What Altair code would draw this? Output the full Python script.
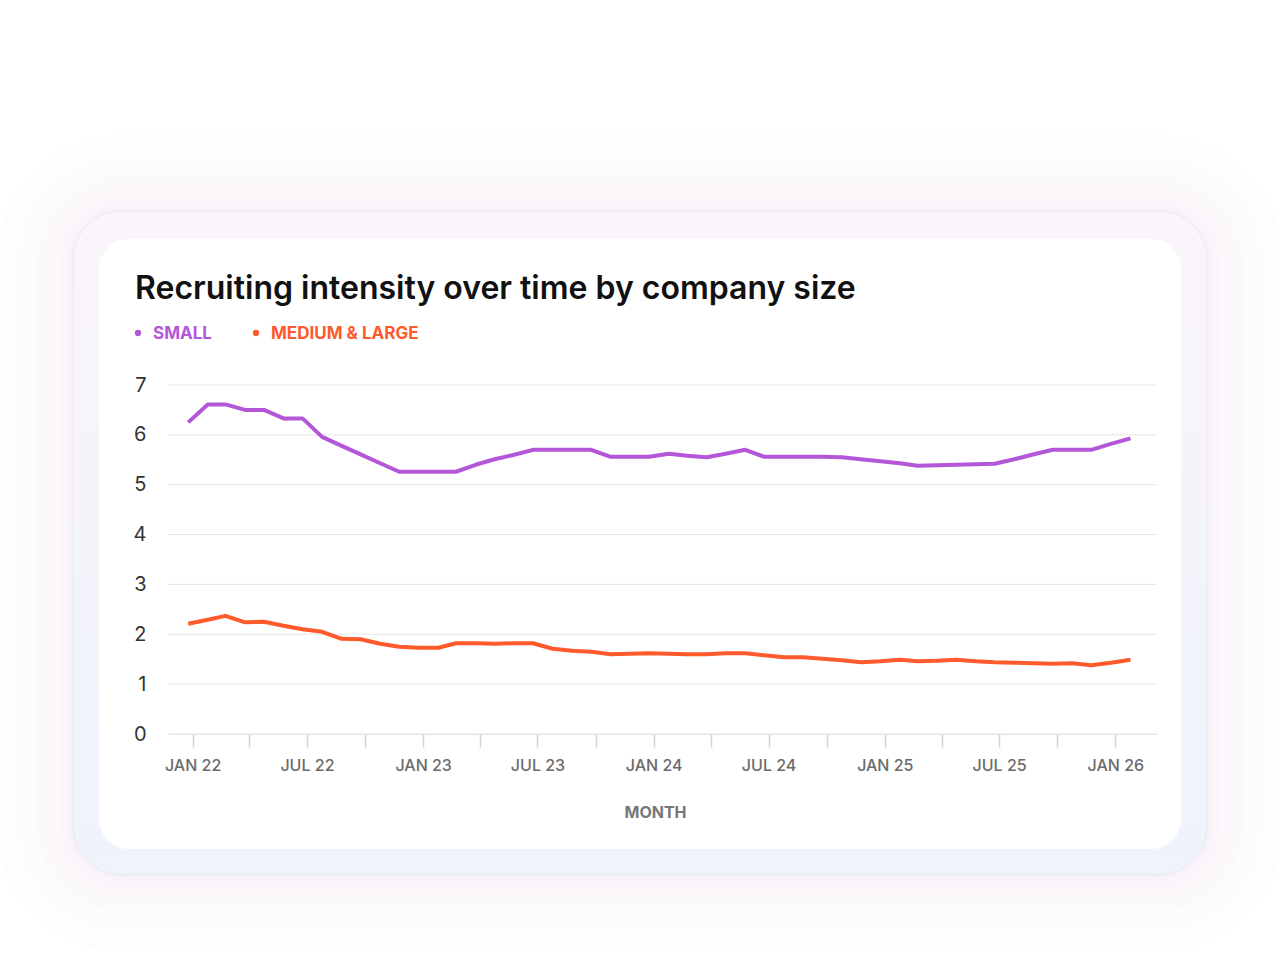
import altair as alt
import pandas as pd

# ---- data -------------------------------------------------------------
SERIES = ["SMALL", "MEDIUM & LARGE"]
COLORS = ["#B357D8", "#FF5A2B"]

# monthly observations, Jan 2022 .. Feb 2026
MONTHS = pd.date_range("2022-01-01", periods=50, freq="MS").strftime("%Y-%m-%d").tolist()

SMALL = [6.25, 6.61, 6.61, 6.50, 6.50, 6.33, 6.33, 5.96, 5.78, 5.61,
         5.43, 5.26, 5.26, 5.26, 5.26, 5.40, 5.51, 5.60, 5.70, 5.70,
         5.70, 5.70, 5.56, 5.56, 5.56, 5.62, 5.58, 5.55, 5.62, 5.70,
         5.56, 5.56, 5.56, 5.56, 5.55, 5.51, 5.47, 5.43, 5.38, 5.39,
         5.40, 5.41, 5.42, 5.51, 5.61, 5.70, 5.70, 5.70, 5.82, 5.93]

MEDIUM_LARGE = [2.21, 2.29, 2.37, 2.24, 2.25, 2.17, 2.10, 2.05, 1.91, 1.90,
                1.81, 1.75, 1.73, 1.73, 1.82, 1.82, 1.81, 1.82, 1.82, 1.71,
                1.67, 1.65, 1.60, 1.61, 1.62, 1.61, 1.60, 1.60, 1.62, 1.62,
                1.58, 1.54, 1.54, 1.51, 1.48, 1.44, 1.46, 1.49, 1.46, 1.47,
                1.49, 1.46, 1.44, 1.43, 1.42, 1.41, 1.42, 1.38, 1.43, 1.49]

Y_TICKS = [0, 1, 2, 3, 4, 5, 6, 7]
TITLE = "Recruiting intensity over time by company size"

# ---- layout -----------------------------------------------------------
W, H = 989, 349              # plot area
PAD = {"left": 168, "top": 385, "right": 1280 - 168 - W, "bottom": 960 - 385 - H}

df = pd.DataFrame({
    "month": MONTHS * 2,
    "value": SMALL + MEDIUM_LARGE,
    "series": [SERIES[0]] * len(MONTHS) + [SERIES[1]] * len(MONTHS),
})
grid_df = pd.DataFrame({"v": Y_TICKS})
one = alt.InlineData(values=[{"k": 1}])

FONT = "Inter"

x_scale = alt.Scale(
    type="utc",
    domain=[alt.DateTime(year=2021, month=11, date=30, utc=True),
            alt.DateTime(year=2026, month=3, date=15, utc=True)],
    nice=False,
)
y_scale = alt.Scale(domain=[0, 7], nice=False, zero=True)

# quarterly ticks, placed a week into each quarter's first month
quarter_ticks = [alt.DateTime(year=y, month=m, date=8, utc=True)
                 for y in range(2022, 2027) for m in (1, 4, 7, 10)
                 if (y, m) <= (2026, 1)]

x_axis = alt.Axis(
    values=quarter_ticks,
    labelExpr="utcmonth(datum.value) % 6 == 0 ? upper(utcFormat(datum.value, '%b %y')) : ''",
    labelFont=FONT, labelFontSize=16, labelFontWeight=500, labelColor="#6b6b6b",
    labelPadding=10, labelOverlap=False, labelBound=False, labelFlush=False,
    ticks=True, tickSize=13, tickColor="#dccfd5", tickWidth=1.5,
    domain=True, domainColor="#e8e2e5", domainWidth=1,
    grid=False,
    title="MONTH", titleFont=FONT, titleFontSize=16, titleFontWeight=700,
    titleColor="#777777", titlePadding=31, titleX=487, titleAlign="center",
    zindex=1,
)
y_axis = alt.Axis(
    values=Y_TICKS, labelFont=FONT, labelFontSize=20, labelFontWeight=400,
    labelColor="#333333", labelPadding=22, ticks=False, domain=False,
    grid=False, title=None, zindex=1,
)

# ---- background card --------------------------------------------------
def card(x0, y0, x1, y1, radius, **kw):
    return alt.Chart(one).mark_rect(cornerRadius=radius, **kw).encode(
        x=alt.value(x0), x2=alt.value(x1), y=alt.value(y0), y2=alt.value(y1)
    )

OX0, OY0, OX1, OY1 = 73 - 168, 211 - 385, 1207 - 168, 875 - 385
glow = [card(OX0 - e, OY0 - e, OX1 + e, OY1 + e, 48 + e,
             fill="#c48ad8", opacity=0.018)
        for e in (5, 12, 22, 36, 54, 76)]

outer = card(OX0, OY0, OX1, OY1, 48,
             fill=alt.Gradient(gradient="linear",
                               stops=[alt.GradientStop(color="#faf5fa", offset=0),
                                      alt.GradientStop(color="#eef3fc", offset=1)],
                               x1=0, x2=0, y1=0, y2=1),
             stroke="#ebe6ee", strokeWidth=1)
inner = card(99 - 168, 239 - 385, 1181 - 168, 849 - 385, 30, fill="white")

# ---- chart layers -----------------------------------------------------
grid = alt.Chart(grid_df).mark_rule(color="#e6e6e6", strokeWidth=1).encode(
    y=alt.Y("v:Q", scale=y_scale, axis=y_axis),
    x=alt.value(0), x2=alt.value(W),
)

lines = alt.Chart(df).mark_line(strokeWidth=4, strokeJoin="round").encode(
    x=alt.X("month:T", scale=x_scale, axis=x_axis),
    y=alt.Y("value:Q", scale=y_scale, axis=y_axis),
    color=alt.Color("series:N", scale=alt.Scale(domain=SERIES, range=COLORS), legend=None),
    detail="series:N",
)

title = alt.Chart(one).mark_text(
    text=TITLE, font=FONT, fontSize=32, fontWeight=600, color="#111111",
    align="left", baseline="alphabetic",
).encode(x=alt.value(135 - 168), y=alt.value(299 - 385))

legend_layers = []
for name, col, dot_x in zip(SERIES, COLORS, (138, 256)):
    legend_layers.append(
        alt.Chart(one).mark_point(filled=True, shape="circle", size=40, color=col, opacity=1)
        .encode(x=alt.value(dot_x - 168), y=alt.value(333 - 385))
    )
    legend_layers.append(
        alt.Chart(one).mark_text(
            text=name, font=FONT, fontSize=17, fontWeight=700, color=col,
            align="left", baseline="alphabetic",
        ).encode(x=alt.value(dot_x + 15 - 168), y=alt.value(339 - 385))
    )

chart = alt.layer(
    *glow, outer, inner, grid, lines, title, *legend_layers
).properties(
    width=W, height=H, padding=PAD, autosize="none", background="white",
).configure_view(stroke=None)

chart.save("out.html", embed_options={"renderer": "svg", "actions": False})
